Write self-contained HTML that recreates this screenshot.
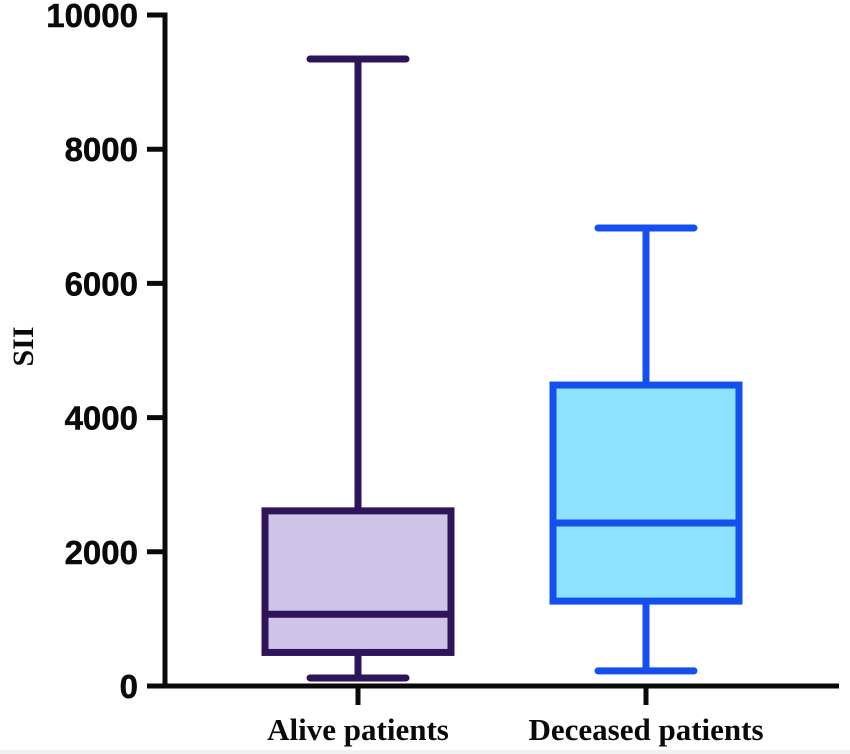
<!DOCTYPE html>
<html lang="en">
<head>
<meta charset="utf-8">
<title>SII box plot</title>
<style>
html,body{margin:0;padding:0;background:#fff;}
svg{display:block;}
.tick{font-family:"Liberation Sans",Arial,sans-serif;font-weight:bold;font-size:33px;fill:#0a0a0a;stroke:#0a0a0a;stroke-width:0.5px;}
.cat{font-family:"Liberation Serif","Times New Roman",serif;font-weight:bold;font-size:31px;fill:#0a0a0a;}
.ytitle{font-family:"Liberation Serif","Times New Roman",serif;font-weight:bold;font-size:30px;fill:#0a0a0a;}
</style>
</head>
<body>
<svg id="chart" width="850" height="754" viewBox="0 0 850 754" xmlns="http://www.w3.org/2000/svg">
<rect x="0" y="750" width="850" height="4" fill="#f1f1f1"></rect>
<text class="ytitle" transform="translate(33,346.5) rotate(-90)" text-anchor="middle">SII</text>
</svg>
<script>
var categories = ['Alive patients', 'Deceased patients'];
var yTicks = [0, 2000, 4000, 6000, 8000, 10000];
var whiskerLow = [120, 225];
var quartile1 = [500, 1265];
var medians = [1070, 2430];
var quartile3 = [2610, 4485];
var whiskerHigh = [9344, 6825];
var strokeColors = ['#2e1458', '#1450ee'];
var fillColors = ['#cfc3e8', '#8de2fd'];

var svg = document.getElementById('chart');
var NS = 'http://www.w3.org/2000/svg';
function yScale(v) { return 686 - v * (671 / 10000); }
function xScale(i) { return 358 + i * 288; }
function make(tag, attrs, parent) {
  var el = document.createElementNS(NS, tag);
  for (var k in attrs) el.setAttribute(k, attrs[k]);
  (parent || svg).appendChild(el);
  return el;
}

// Boxes sit behind the axes, whiskers included
categories.forEach(function (cat, i) {
  var cx = xScale(i);
  var color = strokeColors[i];
  var g = make('g', {});
  
  

  var upper = make('line', {x1: cx, x2: cx, y1: yScale(whiskerHigh[i]), y2: yScale(quartile3[i]), stroke: color, 'stroke-width': 7}, g);
  
  

  var lower = make('line', {x1: cx, x2: cx, y1: yScale(quartile1[i]), y2: yScale(whiskerLow[i]), stroke: color, 'stroke-width': 7}, g);
  
  

  var capHigh = make('line', {x1: cx - 48, x2: cx + 48, y1: yScale(whiskerHigh[i]), y2: yScale(whiskerHigh[i]), stroke: color, 'stroke-width': 7, 'stroke-linecap': 'round'}, g);
  
  

  var capLow = make('line', {x1: cx - 48, x2: cx + 48, y1: yScale(whiskerLow[i]), y2: yScale(whiskerLow[i]), stroke: color, 'stroke-width': 7, 'stroke-linecap': 'round'}, g);
  
  

  var box = make('rect', {x: cx - 93, width: 186, y: yScale(quartile3[i]), height: yScale(quartile1[i]) - yScale(quartile3[i]), fill: fillColors[i], stroke: color, 'stroke-width': 7}, g);
  
  

  var med = make('line', {x1: cx - 93, x2: cx + 93, y1: yScale(medians[i]), y2: yScale(medians[i]), stroke: color, 'stroke-width': 7}, g);
  
  
});

// Axes
var yAxis = make('line', {x1: 165, x2: 165, y1: yScale(10000) - 2.5, y2: yScale(0) + 2.5, stroke: '#0a0a0a', 'stroke-width': 5});



var xAxis = make('line', {x1: 147, x2: 839, y1: yScale(0), y2: yScale(0), stroke: '#0a0a0a', 'stroke-width': 5});



yTicks.forEach(function (t) {
  var y = yScale(t);
  var mark = make('line', {x1: 147, x2: 165, y1: y, y2: y, stroke: '#0a0a0a', 'stroke-width': 5});
  
  

  var label = make('text', {x: 138, y: y + 12, 'text-anchor': 'end', 'class': 'tick'});
  
  
  label.textContent = String(t);
});

categories.forEach(function (cat, i) {
  var cx = xScale(i);
  var mark = make('line', {x1: cx, x2: cx, y1: yScale(0), y2: 705, stroke: '#0a0a0a', 'stroke-width': 5});
  
  

  var label = make('text', {x: cx, y: 740, 'text-anchor': 'middle', 'class': 'cat'});
  
  
  label.textContent = cat;
});
</script>
</body>
</html>
